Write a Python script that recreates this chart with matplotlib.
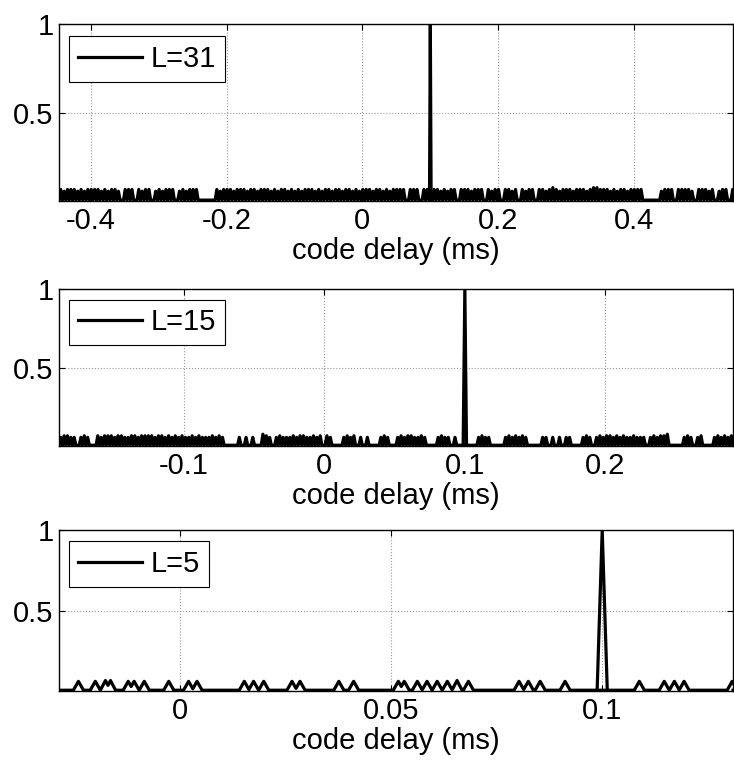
import matplotlib
matplotlib.use("Agg")
import matplotlib.pyplot as plt

plt.rcParams['font.family'] = ['Liberation Sans', 'DejaVu Sans']
plt.rcParams['axes.unicode_minus'] = False

# ----------------------------
# VALUES
# ----------------------------
code_lengths = [31, 15, 5]
x_limits = [(-0.447, 0.546), (-0.189, 0.291), (-0.0287, 0.131)]
x_ticks = [[-0.4, -0.2, 0, 0.2, 0.4], [-0.1, 0, 0.1, 0.2], [0, 0.05, 0.1]]
x_tick_labels = [["-0.4", "-0.2", "0", "0.2", "0.4"],
                 ["-0.1", "0", "0.1", "0.2"],
                 ["0", "0.05", "0.1"]]
y_ticks = [0.5, 1]
y_tick_labels = ["0.5", "1"]

peak_delay = 0.1       # ms, main correlation peak
peak_value = 1.0
floor_value = 0.01
sample_ms = 0.0012     # half width of one correlation sample

# side lobes for L=31 and L=15: one digit per bin, height x100 (0 = none)
side_31_bin = 0.005
side_31 = ("7677767677" "7767677607" "7707677067" "6777067677" "7000007677"
           "7677767767" "7767677676" "7677767677" "6776776767" "7767767677"
           "7707770770" "7767677077" "7677707677" "0776707677" "0776787677"
           "7677767887" "7767677677" "7700000677" "7077776077" "767067707")
side_15_bin = 0.0024
side_15 = ("67766" "0" "676" "00" "7677767766" "7767777677" "676767"
           "667676667676" "0000" "606060" "0" "87606766" "6767766767" "0"
           "76" "000" "67670" "606" "000" "676" "00"
           "676776676" "000" "676606" "000000" "6766" "0000" "6767676"
           "0000" "6606" "0" "6066" "000" "676" "0" "6767767676" "6766"
           "606" "767" "780" "000" "676067" "000" "676767")

# side lobes for L=5: isolated peaks
side_5_x = [-0.0241, -0.0201, -0.0177, -0.0165, -0.0123, -0.0109, -0.0085,
            -0.0027, 0.0020, 0.0040, 0.0152, 0.0174, 0.0198, 0.0265, 0.0284,
            0.0376, 0.0411, 0.0517, 0.0531, 0.0562, 0.0585, 0.0609, 0.0633,
            0.0656, 0.0683, 0.0803, 0.0825, 0.0853, 0.0912, 0.1088, 0.1147,
            0.1171, 0.1194, 0.1308]
side_5_h = [0.065, 0.065, 0.07, 0.07, 0.065, 0.065, 0.065,
            0.065, 0.065, 0.065, 0.065, 0.065, 0.065, 0.065, 0.065,
            0.065, 0.065, 0.065, 0.065, 0.065, 0.065, 0.065, 0.065,
            0.07, 0.065, 0.065, 0.065, 0.065, 0.065, 0.065, 0.065,
            0.065, 0.065, 0.065]


def digits_to_lobes(digits, x0, bin_w):
    xs = [x0 + (i + 0.5) * bin_w for i, d in enumerate(digits) if d != "0"]
    hs = [int(d) / 100 for d in digits if d != "0"]
    return xs, hs


# ------------------------------------------------
# TURN PEAK LIST INTO A POLYLINE (triangles on a floor)
# ------------------------------------------------
def lobe_trace(centers, heights, half, base, x0, x1):
    xs, ys = [x0], [base]
    n = len(centers)
    for i, (c, h) in enumerate(zip(centers, heights)):
        if i == 0 or c - centers[i - 1] >= 2 * half:
            xs.append(c - half)
            ys.append(base)
        xs.append(c)
        ys.append(h)
        if i == n - 1 or centers[i + 1] - c >= 2 * half:
            xs.append(c + half)
            ys.append(base)
        else:
            s = centers[i + 1] - c
            a, b = h - base, heights[i + 1] - base
            u = half * (a - b) / (a + b) + b * s / (a + b)
            xs.append(c + u)
            ys.append(base + a * (1 - u / half))
    xs.append(x1)
    ys.append(base)
    return xs, ys


lobes = [
    digits_to_lobes(side_31, x_limits[0][0], side_31_bin),
    digits_to_lobes(side_15, x_limits[1][0], side_15_bin),
    (side_5_x, side_5_h),
]
lobe_half = [0.5 * side_31_bin, 0.5 * side_15_bin, sample_ms]

positions = [
    [0.0804, 0.7369, 0.9183, 0.2317],
    [0.0804, 0.4162, 0.9183, 0.2055],
    [0.0804, 0.0955, 0.9183, 0.2107],
]

fs = 21
lw = 2.3
fig = plt.figure(figsize=(7.34, 7.64), dpi=100)

for k, L in enumerate(code_lengths):
    ax = fig.add_axes(positions[k])
    x0, x1 = x_limits[k]
    cx, ch = lobes[k]
    tx, ty = lobe_trace(cx, ch, lobe_half[k], floor_value, x0, x1)
    ax.plot(tx, ty, color="k", lw=lw, label=f"L={L}")
    ax.plot([peak_delay - sample_ms, peak_delay, peak_delay + sample_ms],
            [floor_value, peak_value, floor_value], color="k", lw=lw)

    ax.set_xlim(x0, x1)
    ax.set_ylim(0.005, 1.0)
    ax.set_xticks(x_ticks[k])
    ax.set_xticklabels(x_tick_labels[k])
    ax.set_yticks(y_ticks)
    ax.set_yticklabels(y_tick_labels)
    ax.tick_params(direction="in", length=4, width=0.8, top=True, right=True,
                   labelsize=fs, colors="k")
    ax.tick_params(axis="x", pad=4.5)
    ax.tick_params(axis="y", pad=4)
    ax.grid(True, color="0.6", linestyle=":", linewidth=0.8)
    for sp in ax.spines.values():
        sp.set_linewidth(1.0)
        sp.set_color("k")
    ax.set_xlabel("code delay (ms)", fontsize=fs, labelpad=1.5)

    leg = ax.legend(loc="upper left", bbox_to_anchor=(0.0148, 0.932),
                    borderaxespad=0, fontsize=fs, handlelength=2.2,
                    handletextpad=0.3, borderpad=0.3, fancybox=False,
                    edgecolor="k", framealpha=1)
    leg.get_frame().set_linewidth(0.8)

fig.savefig("out.png", dpi=100)
